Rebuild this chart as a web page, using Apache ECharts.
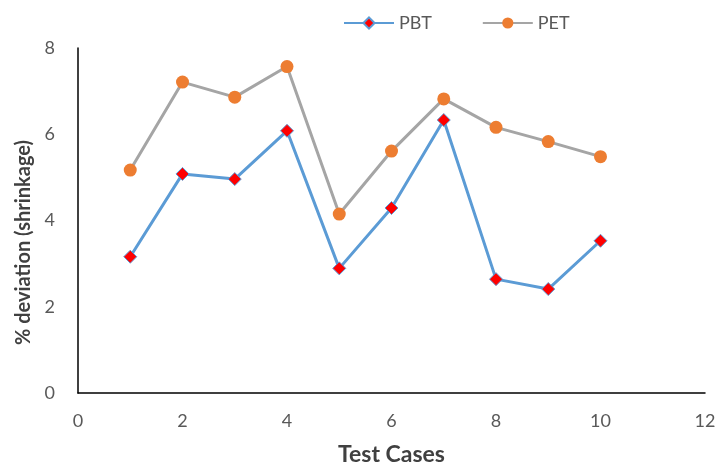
<!DOCTYPE html>
<html>
<head>
<meta charset="utf-8">
<script src="https://cdn.jsdelivr.net/npm/echarts@6/dist/echarts.min.js"></script>
<style>
  html, body { margin: 0; padding: 0; background: #fff; }
  #chart { width: 715px; height: 465px; }
</style>
</head>
<body>
<div id="chart"></div>
<script>
// Test case numbers (x) and shrinkage deviation (%) per material
const testCases = [1, 2, 3, 4, 5, 6, 7, 8, 9, 10];
const pbtValues = [3.16, 5.08, 4.96, 6.08, 2.89, 4.29, 6.33, 2.64, 2.41, 3.53];
const petValues = [5.17, 7.21, 6.86, 7.57, 4.15, 5.61, 6.82, 6.16, 5.83, 5.48];
const seriesNames = ['PBT', 'PET'];

const pairs = (xs, ys) => xs.map((x, i) => [x, ys[i]]);
const font = 'Lato, "Open Sans", sans-serif';

const chart = echarts.init(document.getElementById('chart'));
chart.setOption({
  animation: false,
  textStyle: { fontFamily: font },
  legend: {
    data: seriesNames,
    top: 9,
    left: 338,
    itemWidth: 50,
    itemHeight: 14,
    itemGap: 50,
    textStyle: { fontSize: 18, color: '#595959', fontFamily: font }
  },
  grid: { left: 78, right: 10, top: 48, bottom: 72, containLabel: false, outerBoundsMode: 'none' },
  xAxis: {
    type: 'value',
    min: 0, max: 12, interval: 2,
    name: 'Test Cases',
    nameLocation: 'middle',
    nameGap: 50,
    nameTextStyle: { fontSize: 23, fontWeight: 'bold', color: '#404040', fontFamily: font },
    axisLine: { lineStyle: { color: '#000', width: 1.5 } },
    axisTick: { show: false },
    splitLine: { show: false },
    axisLabel: { fontSize: 18, color: '#595959', margin: 19 }
  },
  yAxis: {
    type: 'value',
    min: 0, max: 8, interval: 2,
    name: '% deviation (shrinkage)',
    nameLocation: 'middle',
    nameGap: 44,
    nameTextStyle: {
      fontSize: 20, fontWeight: 'bold', color: '#404040', fontFamily: font,
      padding: [0, 44, 0, 0]
    },
    axisLine: { show: true, lineStyle: { color: '#000', width: 1.5 } },
    axisTick: { show: false },
    splitLine: { show: false },
    axisLabel: { fontSize: 18, color: '#595959', margin: 23 }
  },
  series: [
    {
      name: 'PBT',
      type: 'line',
      data: pairs(testCases, pbtValues),
      symbol: 'diamond',
      symbolSize: 13,
      lineStyle: { color: '#5B9BD5', width: 3 },
      itemStyle: { color: '#FF0000', borderColor: '#5B9BD5', borderWidth: 1 }
    },
    {
      name: 'PET',
      type: 'line',
      data: pairs(testCases, petValues),
      symbol: 'circle',
      symbolSize: 13,
      lineStyle: { color: '#A5A5A5', width: 3 },
      itemStyle: { color: '#ED7D31', borderColor: '#ED7D31', borderWidth: 0 }
    }
  ]
});
</script>
</body>
</html>
